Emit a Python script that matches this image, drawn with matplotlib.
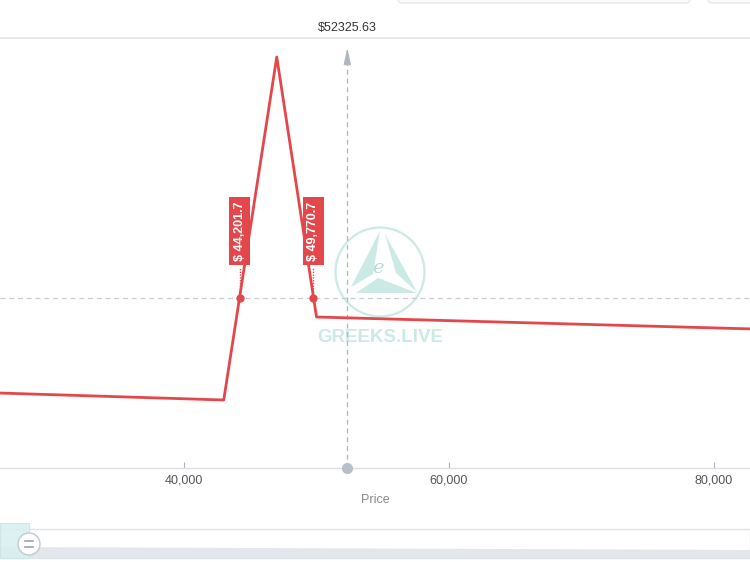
"""Payoff chart of an option strategy (greeks.live style)"""
import matplotlib
matplotlib.use("Agg")
import matplotlib.pyplot as plt
from matplotlib.patches import Circle, Polygon, Rectangle, FancyBboxPatch

# data
prices = [26000, 43000, 47000, 50000, 83000]
pnl = [-95, -102, 241, -19, -31]
breakevens = [44201.7, 49770.7]
be_labels = ["$ 44,201.7", "$ 49,770.7"]
spot = 52325.63
spot_label = "$52325.63"
x_ticks = [40000, 60000, 80000]
x_tick_labels = ["40,000", "60,000", "80,000"]

RED = "#e3474c"
GRID = "#c9cdd3"
TXT = "#555555"
NARROW = ["Liberation Sans Narrow", "Liberation Sans", "DejaVu Sans"]
W, H = 750, 562


def fy(y_px):
    """figure fraction from a pixel row counted from the top"""
    return 1 - y_px / H


fig = plt.figure(figsize=(7.5, 5.62), dpi=100)

# background overlay in pixel units (watermark, slider, frame lines)
bg = fig.add_axes([0, 0, 1, 1], zorder=0)
bg.set_xlim(0, W)
bg.set_ylim(H, 0)
bg.axis("off")

# faint toolbar boxes at the very top
bg.add_patch(FancyBboxPatch((398, -20), 292, 23, boxstyle="round,pad=0,rounding_size=4",
                            fc="#fafbfc", ec="#e6e8eb", lw=1))
bg.add_patch(FancyBboxPatch((708, -20), 60, 23, boxstyle="round,pad=0,rounding_size=4",
                            fc="#fafbfc", ec="#e6e8eb", lw=1))
# top frame line
bg.plot([0, W], [38, 38], color="#e3e5e8", lw=1.2)

# watermark
wm = "#cbe9e5"
bg.add_patch(Circle((380, 272), 44.5, fill=False, ec=wm, lw=1.6))
bg.add_patch(Polygon([(380, 231), (351, 287), (373, 274)], fc=wm, ec="none"))
bg.add_patch(Polygon([(385, 234), (417, 292), (396, 273)], fc=wm, ec="none"))
bg.add_patch(Polygon([(378, 278), (356, 293), (417, 293)], fc=wm, ec="none"))
bg.text(378, 268, "e", color="#b9dcd8", fontsize=14, style="italic", family="DejaVu Serif",
        ha="center", va="center")
bg.text(380, 337, "GREEKS.LIVE", color=wm, fontsize=13.5, fontweight="bold",
        family=["Liberation Sans", "DejaVu Sans"], ha="center", va="center")

# data zoom slider at the bottom
bg.add_patch(Rectangle((0, 529), W, 29, fc="white", ec="#dfe2e6", lw=1))
bg.add_patch(Polygon([(0, 547), (W, 550), (W, 558), (0, 558)], fc="#e3e6eb", ec="none"))
bg.add_patch(Rectangle((0, 523), 29, 35, fc="#d9f0f1", ec="#cfe3e6", lw=0.8, alpha=0.9))
bg.add_patch(Circle((29, 544), 11, fc="white", ec="#c3c9cf", lw=1))
bg.plot([25, 33], [541, 541], color="#9aa3ab", lw=1.2)
bg.plot([25, 33], [547, 547], color="#9aa3ab", lw=1.2)

# main chart axes: x = 26113..82717 over full width, plot rows 38..468
ax = fig.add_axes([0, fy(468), 1, (468 - 38) / H], zorder=1)
ax.patch.set_alpha(0)
ax.set_xlim(26113, 82717)
ax.set_ylim(-170, 260)

ax.axhline(0, color=GRID, lw=0.9, ls=(0, (4, 3)))
ax.plot([spot, spot], [-170, 245], color="#b0b6bd", lw=0.9, ls=(0, (4, 3)))
ax.annotate("", xy=(spot, 253), xytext=(spot, 236),
            arrowprops=dict(arrowstyle="-|>,head_length=1.0,head_width=0.22",
                            color="#b0b6bd", lw=0.9))
ax.plot([spot], [-170], marker="o", ms=7, color="#b7c0c9", clip_on=False, zorder=5)
ax.text(spot, 270, spot_label, ha="center", va="center", fontsize=9,
        color="#333333", family=NARROW)

ax.plot(prices, pnl, color=RED, lw=2, zorder=4)

for be, lab in zip(breakevens, be_labels):
    ax.plot([be], [0], marker="o", ms=5, color=RED, zorder=6)
    ax.plot([be, be], [6, 30], color=RED, lw=1, ls=(0, (1, 1)), zorder=5)
    ax.text(be, 67, lab, rotation=90, ha="center", va="center", color="white",
            fontsize=9, fontweight="bold", family=["Liberation Sans", "DejaVu Sans"],
            bbox=dict(boxstyle="square,pad=0.35", fc=RED, ec="none"), zorder=7)

for side in ["top", "left", "right"]:
    ax.spines[side].set_visible(False)
ax.spines["bottom"].set_color("#dcdfe3")
ax.spines["bottom"].set_linewidth(1)
ax.set_yticks([])
ax.set_xticks(x_ticks)
ax.set_xticklabels(x_tick_labels, family=NARROW, fontsize=9, color=TXT)
ax.tick_params(axis="x", direction="in", length=4, color="#aab0b6", pad=5)
ax.set_xlabel("Price", family=NARROW, fontsize=9, color="#888888", labelpad=5)

fig.savefig("out.png", dpi=100)
